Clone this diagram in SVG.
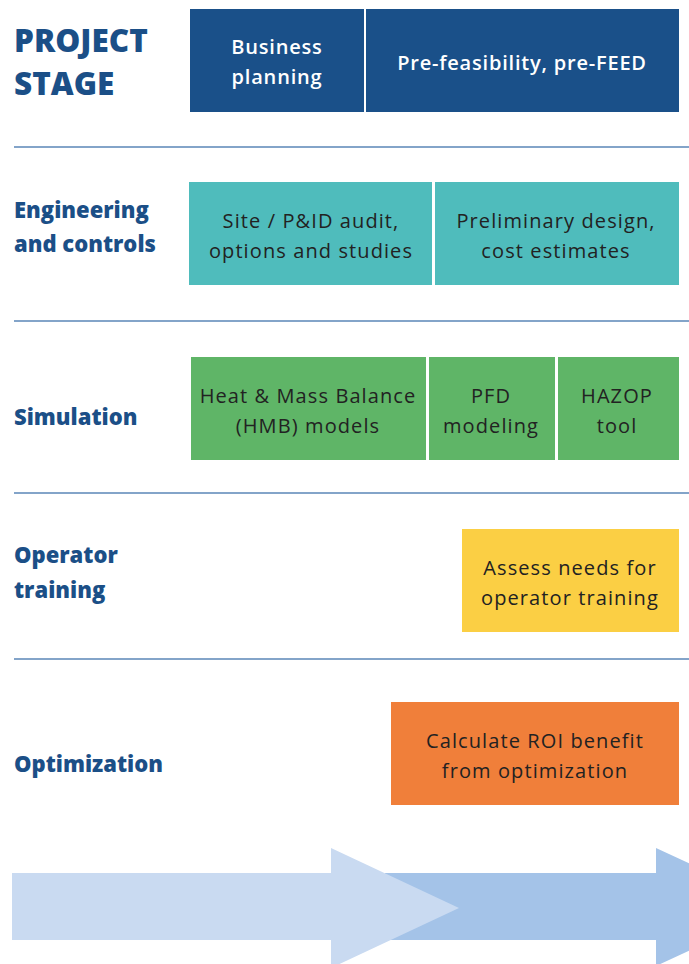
<svg xmlns="http://www.w3.org/2000/svg" width="689" height="964" viewBox="0 0 689 964">
<style>
.lbl{font-family:"Open Sans","Liberation Sans",sans-serif;font-weight:800;fill:#1b4f87}
.hdr{font-family:"Open Sans","Liberation Sans",sans-serif;font-weight:600;font-size:20px;letter-spacing:0.8px;fill:#ffffff;text-anchor:middle}
.box{font-family:"Open Sans","Liberation Sans",sans-serif;font-size:20px;letter-spacing:1.1px;fill:#222222;text-anchor:middle}
.sep{stroke:#5a86b7;stroke-width:1.5}
</style>
<rect width="689" height="964" fill="#ffffff"/>
<g id="labels">
<text class="lbl" x="14" y="52" font-size="31.5">PROJECT</text>
<text class="lbl" x="14" y="95" font-size="31.5">STAGE</text>
<text class="lbl" x="14" y="218" font-size="22">Engineering</text>
<text class="lbl" x="14" y="252" font-size="22">and controls</text>
<text class="lbl" x="14" y="425" font-size="22">Simulation</text>
<text class="lbl" x="14" y="563" font-size="22">Operator</text>
<text class="lbl" x="14" y="598" font-size="22">training</text>
<text class="lbl" x="14" y="772" font-size="22">Optimization</text>
</g>
<g id="separators">
<line class="sep" x1="14" y1="147" x2="689" y2="147"/>
<line class="sep" x1="14" y1="321" x2="689" y2="321"/>
<line class="sep" x1="14" y1="493" x2="689" y2="493"/>
<line class="sep" x1="14" y1="659" x2="689" y2="659"/>
</g>
<g id="business-planning">
<rect x="190" y="9" width="174" height="103" fill="#1a5089"/>
<text class="hdr" x="277" y="54">Business</text>
<text class="hdr" x="277" y="84">planning</text>
</g>
<g id="pre-feasibility">
<rect x="366" y="9" width="313" height="103" fill="#1a5089"/>
<text class="hdr" x="522" y="70">Pre-feasibility, pre-FEED</text>
</g>
<g id="site-audit">
<rect x="189" y="182" width="243" height="103" fill="#4fbcbc"/>
<text class="box" x="311" y="228">Site / P&amp;ID audit,</text>
<text class="box" x="311" y="258">options and studies</text>
</g>
<g id="preliminary-design">
<rect x="435" y="182" width="244" height="103" fill="#4fbcbc"/>
<text class="box" x="556" y="228">Preliminary design,</text>
<text class="box" x="556" y="258">cost estimates</text>
</g>
<g id="hmb">
<rect x="191" y="357" width="235" height="103" fill="#5fb567"/>
<text class="box" x="308" y="403">Heat &amp; Mass Balance</text>
<text class="box" x="308" y="433">(HMB) models</text>
</g>
<g id="pfd">
<rect x="429" y="357" width="126" height="103" fill="#5fb567"/>
<text class="box" x="491" y="403">PFD</text>
<text class="box" x="491" y="433">modeling</text>
</g>
<g id="hazop">
<rect x="558" y="357" width="121" height="103" fill="#5fb567"/>
<text class="box" x="617" y="403">HAZOP</text>
<text class="box" x="617" y="433">tool</text>
</g>
<g id="operator-training">
<rect x="462" y="529" width="217" height="103" fill="#fbcf44"/>
<text class="box" x="570" y="575">Assess needs for</text>
<text class="box" x="570" y="605">operator training</text>
</g>
<g id="roi">
<rect x="391" y="702" width="288" height="103" fill="#f07f3a"/>
<text class="box" x="535" y="748">Calculate ROI benefit</text>
<text class="box" x="535" y="778">from optimization</text>
</g>
<g id="connectors">
<polygon points="385,873 656,873 656,848 784,907 656,966 656,940 385,940" fill="#a4c3e8"/>
<polygon points="12,873 331,873 331,848 459,908 331,968 331,940 12,940" fill="#c9daf1"/>
</g>
</svg>
